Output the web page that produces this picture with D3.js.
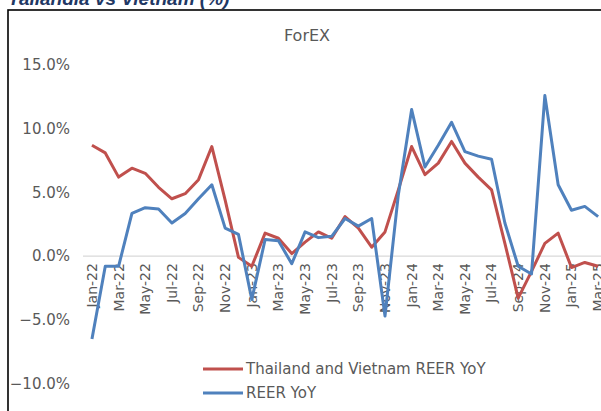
<!DOCTYPE html>
<html><head><meta charset="utf-8">
<script src="https://cdn.jsdelivr.net/npm/d3@7"></script>
<style>body{margin:0;background:#fff;overflow:hidden}svg{display:block}</style>
</head><body>
<script>
const months = ["Jan-22","Feb-22","Mar-22","Apr-22","May-22","Jun-22","Jul-22","Aug-22","Sep-22","Oct-22","Nov-22","Dec-22",
"Jan-23","Feb-23","Mar-23","Apr-23","May-23","Jun-23","Jul-23","Aug-23","Sep-23","Oct-23","Nov-23","Dec-23",
"Jan-24","Feb-24","Mar-24","Apr-24","May-24","Jun-24","Jul-24","Aug-24","Sep-24","Oct-24","Nov-24","Dec-24",
"Jan-25","Feb-25","Mar-25"];
const thVnReer = [8.7,8.1,6.2,6.9,6.5,5.4,4.5,4.9,6.0,8.6,4.4,-0.1,
-0.8,1.8,1.4,0.2,1.1,1.9,1.4,3.1,2.2,0.7,1.9,5.2,
8.6,6.4,7.3,9.0,7.3,6.2,5.2,1.0,-3.3,-1.2,1.0,1.8,
-0.9,-0.5,-0.8];
const reerYoY = [-6.5,-0.8,-0.8,3.35,3.8,3.7,2.6,3.35,4.5,5.6,2.2,1.7,
-3.4,1.3,1.2,-0.6,1.9,1.45,1.55,2.95,2.35,2.95,-4.7,4.8,
11.5,7.0,8.7,10.5,8.2,7.85,7.6,2.6,-0.8,-1.4,12.6,5.6,
3.6,3.9,3.1];
const yTicks = [-10,-5,0,5,10,15];
const seriesNames = ["Thailand and Vietnam REER YoY","REER YoY"];
const colors = ["#C0504D","#4F81BD"];

const W=601,H=411;
const svg=d3.select("body").append("svg").attr("width",W).attr("height",H);
const font="'DejaVu Sans', sans-serif";
const gray="#595959";

// page heading (cut off at top)
svg.append("text").attr("x",8).attr("y",5).attr("font-family","'Liberation Sans', Arial, sans-serif")
  .attr("font-weight","bold").attr("font-style","italic").attr("font-size",19).attr("fill","#1F3864")
  .text("Tailandia vs Vietnam (%)");

// chart frame
svg.append("rect").attr("x",8).attr("y",10).attr("width",700).attr("height",500)
  .attr("fill","#fff").attr("stroke","#000").attr("stroke-width",1.6);

svg.append("text").attr("x",307).attr("y",41).attr("text-anchor","middle")
  .attr("font-family",font).attr("font-size",16).attr("fill",gray).text("ForEX");

const x=d3.scaleBand().domain(months).range([85.3,85.3+months.length*13.32]).padding(0);
const y=d3.scaleLinear().domain([-10,15]).range([383.5,65]);
const cx=d=>x(d)+x.bandwidth()/2;

// y axis labels
const yAxis=d3.axisLeft(y).tickValues(yTicks).tickSize(0).tickPadding(0).tickFormat(d=>d3.format(".1f")(d)+"%");
const ga=svg.append("g").attr("transform","translate(70,0)").call(yAxis);
ga.select(".domain").remove();
ga.selectAll("text").attr("font-family",font).attr("font-size",15).attr("fill",gray);

// zero baseline (category axis)
svg.append("line").attr("x1",83).attr("x2",W+20).attr("y1",y(0)).attr("y2",y(0))
  .attr("stroke","#D9D9D9").attr("stroke-width",1.2);

// x axis labels
const xAxis=d3.axisBottom(x).tickValues(months.filter((d,i)=>i%2===0)).tickSize(0).tickPadding(0);
const gx=svg.append("g").attr("transform",`translate(0,${y(0)})`).call(xAxis);
gx.select(".domain").remove();
gx.selectAll("text").attr("font-family",font).attr("font-size",14).attr("fill",gray)
  .attr("text-anchor","end").attr("dy","0.35em").attr("transform","translate(0,7) rotate(-90)").attr("x",0).attr("y",0);

const line=d3.line().x((d,i)=>cx(months[i])).y(d=>y(d));
[thVnReer,reerYoY].forEach((s,k)=>{
  svg.append("path").datum(s).attr("d",line).attr("fill","none")
    .attr("stroke",colors[k]).attr("stroke-width",3).attr("stroke-linejoin","round");
});

// legend
seriesNames.forEach((n,k)=>{
  const ly=369+k*24;
  svg.append("line").attr("x1",203).attr("x2",243).attr("y1",ly).attr("y2",ly)
    .attr("stroke",colors[k]).attr("stroke-width",3);
  svg.append("text").attr("x",246).attr("y",ly).attr("dy","0.35em").attr("font-family",font)
    .attr("font-size",15).attr("fill",gray).text(n);
});
</script>
</body></html>
